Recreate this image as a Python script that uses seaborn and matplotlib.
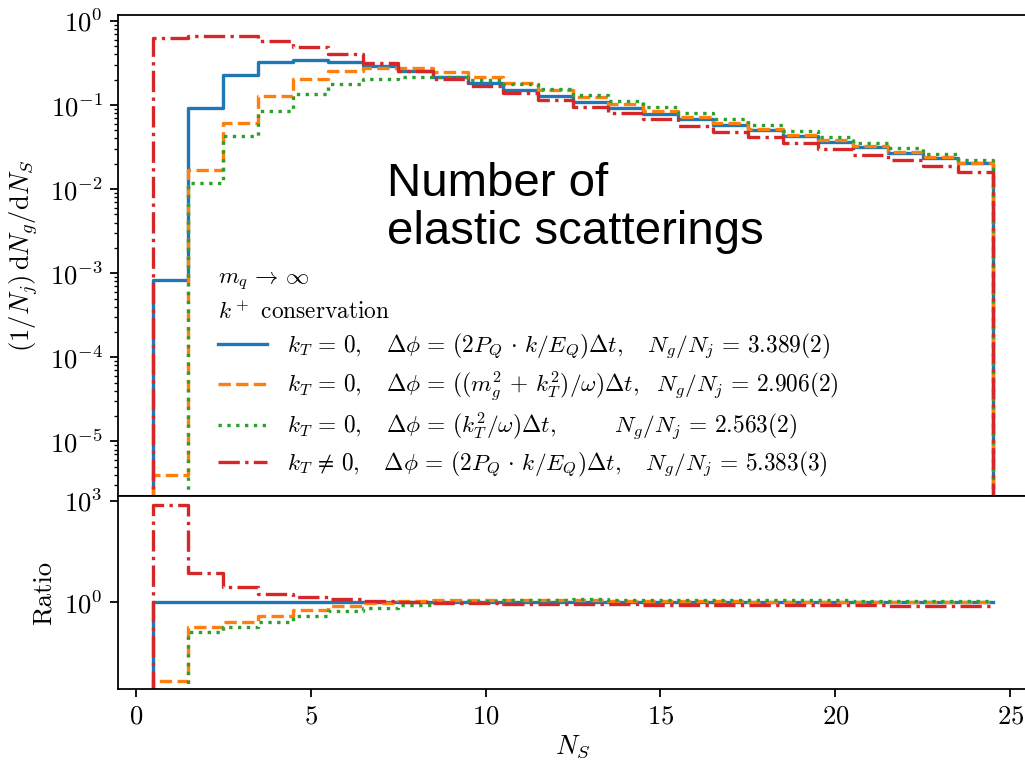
import numpy as np
import pandas as pd
import matplotlib
matplotlib.use("Agg")
import matplotlib.pyplot as plt
import seaborn as sns
from matplotlib.ticker import LogLocator, NullLocator, FixedLocator

# ---------------- data (values per N_S bin, N_S = 0..25) ----------------
n_s = list(range(0, 26))
blue_vals = [0, 8.2e-4, 0.0912, 0.227, 0.321, 0.343, 0.327, 0.293, 0.253, 0.214, 0.181,
             0.152, 0.129, 0.108, 0.0926, 0.0786, 0.0674, 0.0572, 0.0498, 0.0426,
             0.0365, 0.0315, 0.0272, 0.0235, 0.0202, 0]
orange_vals = [0, 4.0e-6, 0.0171, 0.0614, 0.129, 0.202, 0.255, 0.279, 0.274, 0.246, 0.217,
               0.181, 0.150, 0.124, 0.1025, 0.0853, 0.0724, 0.0614, 0.0513, 0.0442,
               0.0379, 0.0324, 0.0277, 0.0238, 0.0205, 0]
green_vals = [0, 0, 0.0119, 0.0427, 0.0853, 0.134, 0.177, 0.203, 0.213, 0.213, 0.196,
              0.179, 0.153, 0.132, 0.112, 0.0952, 0.0807, 0.068, 0.0577, 0.0489,
              0.0415, 0.0355, 0.0304, 0.0258, 0.0223, 0]
red_vals = [0, 0.62, 0.656, 0.656, 0.573, 0.493, 0.40, 0.32, 0.253, 0.205, 0.168,
            0.14, 0.1135, 0.0952, 0.080, 0.0674, 0.0566, 0.048, 0.0411, 0.0349,
            0.0299, 0.0255, 0.0219, 0.0186, 0.016, 0]

EQ = r"\,=\,"
labels = [
    r"$k_T" + EQ + r"0,\quad\Delta\phi" + EQ + r"(2P_Q\,\cdot\,k/E_Q)\Delta t,\quad N_g/N_j" + EQ + r"3.389(2)$",
    r"$k_T" + EQ + r"0,\quad\Delta\phi" + EQ + r"((m_g^2\,+\,k_T^2)/\omega)\Delta t,\ \ N_g/N_j" + EQ + r"2.906(2)$",
    r"$k_T" + EQ + r"0,\quad\Delta\phi" + EQ + r"(k_T^2/\omega)\Delta t,\qquad\ \ N_g/N_j" + EQ + r"2.563(2)$",
    r"$k_T\,\neq\,0,\quad\Delta\phi" + EQ + r"(2P_Q\,\cdot\,k/E_Q)\Delta t,\quad N_g/N_j" + EQ + r"5.383(3)$",
]
colors = ["#1f77b4", "#ff7f0e", "#2ca02c", "#d62728"]
styles = ["-", "--", ":", "-."]
legend_title = "$m_q \\,\\to\\, \\infty$\n$k^+$ conservation"
annotation = "Number of\nelastic scatterings"

# ---------------- style ----------------
plt.rcParams.update({
    "font.family": "serif",
    "font.serif": ["cmr10"],
    "mathtext.fontset": "cm",
    "axes.formatter.use_mathtext": True,
    "axes.unicode_minus": False,
    "font.size": 12,
    "axes.linewidth": 0.8,
    "xtick.direction": "out",
    "ytick.direction": "out",
})

fig = plt.figure(figsize=(1025 / 160, 762 / 160), dpi=160)
ax_top = fig.add_axes([0.1154, 0.349, 0.8872, 0.6311])
ax_bot = fig.add_axes([0.1154, 0.0954, 0.8872, 0.2536], sharex=ax_top)

series = [blue_vals, orange_vals, green_vals, red_vals]

for vals, c, ls, lab in zip(series, colors, styles, labels):
    df = pd.DataFrame({"n": np.array(n_s, dtype=float), "w": np.array(vals, dtype=float)})
    sns.histplot(data=df, x="n", weights="w", binwidth=1, binrange=(-0.5, 25.5),
                 element="step", fill=False, color=c, linestyle=ls, linewidth=1.5,
                 label=lab, ax=ax_top)

# ratio to the first series
blue_arr = np.array(blue_vals[:25], dtype=float)
for vals, c, ls in zip(series, colors, styles):
    v = np.array(vals[:25], dtype=float)
    safe = np.where(blue_arr > 0, blue_arr, 1.0)
    ratio = np.where(blue_arr > 0, v / safe, 0.0)
    df = pd.DataFrame({"n": np.array(n_s[:25], dtype=float), "w": ratio})
    sns.histplot(data=df, x="n", weights="w", binwidth=1, binrange=(-0.5, 24.5),
                 element="step", fill=False, color=c, linestyle=ls, linewidth=1.5,
                 ax=ax_bot)

# ---------------- axes ----------------
ax_top.set_yscale("log")
ax_top.set_ylim(2.24e-6, 1.17)
ax_top.set_xlim(-0.5, 25.5)
ax_top.set_ylabel(r"$(1/N_j)\,\mathrm{d}N_g/\mathrm{d}N_S$")
ax_top.set_xlabel("")
ax_top.tick_params(axis="x", which="both", bottom=False, labelbottom=False)
ax_top.yaxis.set_major_locator(LogLocator(base=10, numticks=20))
ax_top.yaxis.set_minor_locator(LogLocator(base=10, subs=np.arange(2, 10), numticks=20))

ax_bot.set_yscale("log")
ax_bot.set_ylim(0.0027, 1377)
ax_bot.yaxis.set_major_locator(FixedLocator([1.0, 1000.0]))
ax_bot.yaxis.set_minor_locator(NullLocator())
ax_bot.set_ylabel("Ratio")
ax_bot.set_xlabel(r"$N_S$", labelpad=2)
ax_bot.set_xticks([0, 5, 10, 15, 20, 25])
ax_bot.set_xlim(-0.5, 25.5)

ax_top.text(0.296, 0.694, annotation, transform=ax_top.transAxes, ha="left", va="top",
            fontsize=21.3, family="Liberation Sans", linespacing=1.12)

leg = ax_top.legend(loc="upper left", bbox_to_anchor=(0.0997, 0.4875), borderaxespad=0,
                    frameon=False, fontsize=10.5, title=legend_title, title_fontsize=10.5,
                    alignment="left", handlelength=2.1, handletextpad=0.84,
                    labelspacing=0.32)
leg.get_title().set_linespacing(1.4)

fig.savefig("out.png", dpi=160)
